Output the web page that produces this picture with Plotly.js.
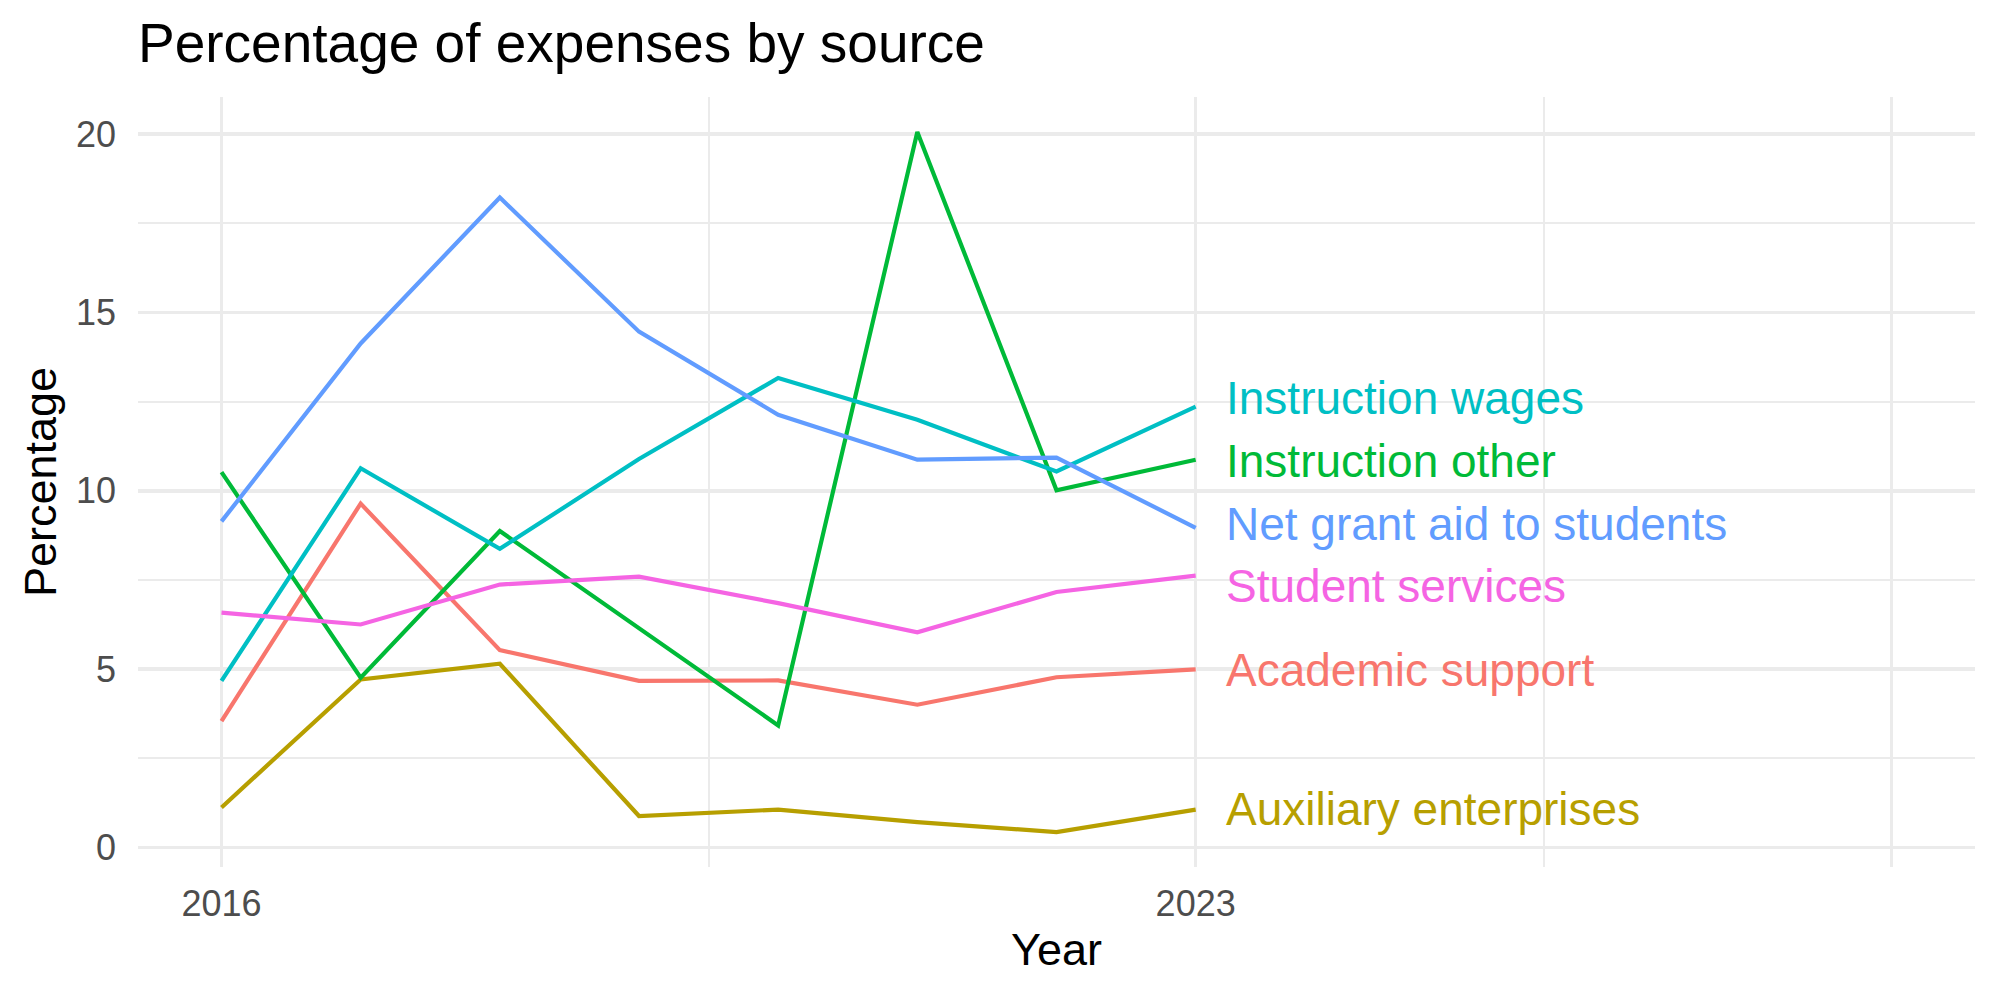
<!DOCTYPE html>
<html>
<head>
<meta charset="utf-8">
<script src="https://cdn.plot.ly/plotly-3.0.1.min.js"></script>
<style>html,body{margin:0;padding:0;background:#fff;}#chart{width:2000px;height:1000px;}</style>
</head>
<body>
<div id="chart"></div>
<script>
// ---- data ----
const years = [2016, 2017, 2018, 2019, 2020, 2021, 2022, 2023];
const academicSupport = [3.54, 9.64, 5.53, 4.67, 4.68, 4.00, 4.77, 4.99];
const auxiliaryEnterprises = [1.12, 4.71, 5.15, 0.88, 1.06, 0.71, 0.43, 1.06];
const instructionOther = [10.52, 4.76, 8.87, 6.16, 3.42, 20.06, 10.01, 10.87];
const instructionWages = [4.67, 10.63, 8.37, 10.89, 13.16, 11.99, 10.54, 12.36];
const netGrantAid = [9.14, 14.13, 18.22, 14.46, 12.13, 10.87, 10.93, 8.96];
const studentServices = [6.58, 6.25, 7.37, 7.59, 6.85, 6.03, 7.16, 7.62];
const seriesNames = ["Academic support", "Auxiliary enterprises", "Instruction other",
                     "Instruction wages", "Net grant aid to students", "Student services"];
const xTickVals = [2016, 2023, 2028];
const xTickText = ["2016", "2023", ""];
const yTickVals = [0, 5, 10, 15, 20];

// ---- styling ----
const colors = ["#F8766D", "#B79F00", "#00BA38", "#00BFC4", "#619CFF", "#F564E3"];
const labelNudge = [-0.03, 0.03, -0.03, 0.25, 0.12, -0.28];
const seriesValues = [academicSupport, auxiliaryEnterprises, instructionOther,
                      instructionWages, netGrantAid, studentServices];
const FONT = "Liberation Sans, Arial, Helvetica, sans-serif";

const traces = seriesValues.map((vals, i) => ({
  x: years, y: vals, type: "scatter", mode: "lines", name: seriesNames[i],
  line: {color: colors[i], width: 4.2}, hoverinfo: "x+y+name"
}));

const annotations = seriesValues.map((vals, i) => ({
  x: years[years.length - 1], y: vals[vals.length - 1] + labelNudge[i],
  xref: "x", yref: "y", text: seriesNames[i], showarrow: false,
  xanchor: "left", yanchor: "middle", xshift: 28,
  font: {family: FONT, size: 46, color: colors[i]}
}));

const layout = {
  width: 2000, height: 1000,
  paper_bgcolor: "#ffffff", plot_bgcolor: "#ffffff",
  margin: {l: 138, r: 25, t: 97, b: 133, autoexpand: false},
  showlegend: false,
  font: {family: FONT},
  title: {
    text: "Percentage of expenses by source",
    font: {family: FONT, size: 55, color: "#000000"},
    xref: "paper", x: 0, xanchor: "left",
    yref: "container", y: 0.957, yanchor: "middle"
  },
  xaxis: {
    range: [2015.4, 2028.6],
    tickmode: "array", tickvals: xTickVals, ticktext: xTickText,
    showgrid: true, gridcolor: "#EBEBEB", gridwidth: 3.6,
    minor: {tickmode: "array", tickvals: [2019.5, 2025.5], showgrid: true, gridcolor: "#EBEBEB", gridwidth: 2, ticks: ""},
    zeroline: false, showline: false, ticks: "",
    ticklabelstandoff: 12,
    tickfont: {family: FONT, size: 36, color: "#4D4D4D"},
    title: {text: "Year", font: {family: FONT, size: 45, color: "#000000"}, standoff: 10},
    automargin: false
  },
  yaxis: {
    range: [-0.55, 21.04],
    tickmode: "array", tickvals: yTickVals,
    showgrid: true, gridcolor: "#EBEBEB", gridwidth: 3.6,
    minor: {tickmode: "array", tickvals: [2.5, 7.5, 12.5, 17.5], showgrid: true, gridcolor: "#EBEBEB", gridwidth: 2, ticks: ""},
    zeroline: false, showline: false, ticks: "",
    ticklabelstandoff: 21,
    tickfont: {family: FONT, size: 36, color: "#4D4D4D"},
    title: {text: "Percentage", font: {family: FONT, size: 45, color: "#000000"}, standoff: 5},
    automargin: false
  },
  annotations: annotations
};

Plotly.newPlot("chart", traces, layout, {staticPlot: true, displayModeBar: false});
</script>
</body>
</html>
